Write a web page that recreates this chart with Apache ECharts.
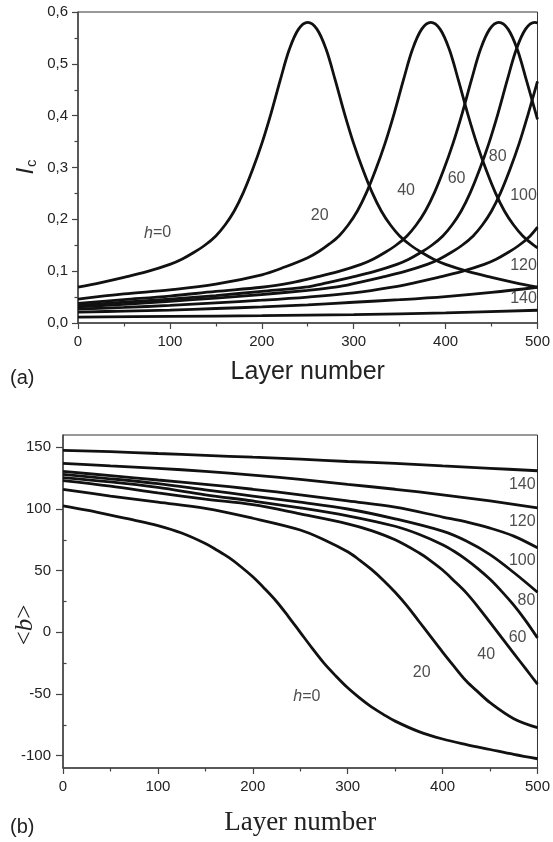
<!DOCTYPE html>
<html>
<head>
<meta charset="utf-8">
<script src="https://cdn.jsdelivr.net/npm/echarts@6.0.0/dist/echarts.min.js"></script>
<style>
html,body{margin:0;padding:0;background:#fff;}
#chart{width:553px;height:842px;}
</style>
</head>
<body>
<div id="chart"></div>
<script>
// ---------- Panel (a): I_c vs layer number ----------
const icX_h0 = [0,25,50,75,100,113,125,138,150,160,170,180,190,200,210,220,230,240,250,260,270,280,290,300,310,320,330,340,350,362,375,387,400,425,450,475,500];
const icY_h0 = [.069,.078,.088,.099,.113,.123,.135,.15,.168,.189,.216,.252,.296,.346,.404,.468,.528,.567,.58,.567,.528,.468,.404,.346,.296,.252,.216,.189,.168,.15,.135,.123,.113,.099,.088,.078,.069];
const icX_h20 = [0,50,100,150,200,225,250,262,274,284,294,304,314,324,334,344,354,364,374,384,394,404,414,424,434,444,454,464,474,484,496,500];
const icY_h20 = [.046,.056,.064,.075,.093,.108,.126,.138,.153,.168,.189,.216,.252,.296,.346,.404,.468,.528,.567,.58,.567,.528,.468,.404,.346,.296,.252,.216,.189,.168,.15,.145];
const icX_h40 = [0,50,100,150,200,233,258,283,308,321,333,346,358,368,378,388,398,408,418,428,438,448,458,468,478,488,500];
const icY_h40 = [.038,.045,.052,.061,.069,.078,.088,.099,.113,.123,.135,.15,.168,.189,.216,.252,.296,.346,.404,.468,.528,.567,.58,.567,.528,.468,.393];
const icX_h60 = [0,50,100,150,200,247,272,297,322,347,360,372,385,397,407,417,427,437,447,457,467,477,487,497,500];
const icY_h60 = [.034,.040,.046,.053,.061,.069,.078,.088,.099,.113,.123,.135,.15,.168,.189,.216,.252,.296,.346,.404,.468,.528,.567,.58,.579];
const icX_h80 = [0,50,100,150,200,250,280,305,330,355,380,393,405,418,430,440,450,460,470,480,490,500];
const icY_h80 = [.031,.036,.042,.048,.055,.063,.069,.078,.088,.099,.113,.123,.135,.15,.168,.189,.216,.252,.296,.346,.404,.466];
const icX_h100 = [0,50,100,150,200,250,300,342,367,392,417,442,455,467,480,492,500];
const icY_h100 = [.027,.030,.034,.039,.044,.050,.058,.069,.078,.088,.099,.113,.123,.135,.15,.168,.185];
const icX_h120 = [0,50,100,150,200,250,300,350,400,450,500];
const icY_h120 = [.021,.023,.025,.028,.031,.035,.040,.045,.051,.059,.069];
const icX_h140 = [0,100,200,300,400,500];
const icY_h140 = [.0115,.0128,.0142,.0163,.0195,.0246];

// ---------- Panel (b): <b> vs layer number ----------
const bX_h0 = [0,25,50,75,100,125,150,162.5,175,187.5,200,212.5,225,237.5,250,262.5,275,287.5,300,312.5,325,337.5,350,375,400,425,450,475,500];
const bY_h0 = [102.5,99,95,91,86.5,80.5,72,66.5,60.5,53.2,45,35.4,25,12.8,0,-12.8,-25,-35.4,-45,-53.2,-60.5,-66.5,-72,-80.5,-86.5,-91,-95,-99,-102.5];
const bX_h20 = [0,50,100,150,200,250,275,300,312.5,325,337.5,350,362.5,375,387.5,400,412.5,425,437.5,450,475,500];
const bY_h20 = [116,110.5,105.5,100.5,92.5,83,75.1,65.3,58.6,51,42.3,32.5,21.5,9,-3.5,-16,-28,-39.5,-48.5,-57,-70,-77.3];
const bX_h40 = [0,50,100,150,200,250,300,325,350,375,387.5,400,412.5,425,437.5,450,462.5,475,487.5,500];
const bY_h40 = [123,118.5,113,108,103.5,96,88,82.5,75,64.5,58,50.5,41.5,32,20.5,8,-4.5,-17,-29.5,-42];
const bX_h60 = [0,50,100,150,200,250,300,350,375,400,412.5,425,437.5,450,462.5,475,487.5,500];
const bY_h60 = [125.5,122,117.5,111.5,106.5,101,94.5,86,79.5,71,65.5,59,51.5,43,33,22,9.5,-4.5];
const bX_h80 = [0,50,100,150,200,250,300,350,400,425,450,475,500];
const bY_h80 = [128,124.5,120.5,115.5,110.5,105.5,100,92,82,74,63,48.5,32.5];
const bX_h100 = [0,50,100,150,200,250,300,350,400,425,450,475,500];
const bY_h100 = [130.5,127,123.5,120,116,111.5,106.5,101.5,93.5,89.5,84.5,78,68.5];
const bX_h120 = [0,50,100,150,200,250,300,350,400,450,500];
const bY_h120 = [137,135,133,130.5,127.5,124,120,116,111.5,106.5,101];
const bX_h140 = [0,50,100,150,200,250,300,350,400,450,500];
const bY_h140 = [147.5,146.5,145,143.5,142,140.5,138.5,137,135,133,131];

// tick values
const icTicks = [0,0.1,0.2,0.3,0.4,0.5,0.6];
const bTicks = [-100,-50,0,50,100,150];
const bMinorTicks = [-75,-25,25,75,125];

// curve annotations (text, layer, value)
const labelsA = [['{i|h}=0',86.6,0.1735],['20',263,0.208],['40',357,0.255],['60',412,0.279],['80',456.7,0.322],['100',484.8,0.245],['120',484.8,0.11],['140',484.8,0.048]];
const labelsB = [['{i|h}=0',257,-52.4],['20',378,-33],['40',446,-17.7],['60',479,-4],['80',488.4,25.8],['100',484,58],['120',484,89.5],['140',484,119.4]];

const SANS = 'Liberation Sans, Arial, sans-serif';
const SERIF = 'Liberation Serif, Times New Roman, serif';
const LINE = '#111';
const AX = '#444';

function pairs(xs, ys){ return xs.map((x,i)=>[x, ys[i]]); }
function curve(xs, ys, gi){
  return {type:'line', xAxisIndex:gi, yAxisIndex:gi, data:pairs(xs,ys), showSymbol:false, symbol:'none',
    smooth:0.35, lineStyle:{color:LINE, width:2.8}, silent:true, animation:false, z:3};
}
function labelSeries(arr, gi, yAxisIdx){
  return {type:'scatter', xAxisIndex:gi, yAxisIndex:yAxisIdx, symbolSize:0, silent:true, animation:false, z:5,
    data: arr.map(a=>({name:a[0], value:[a[1],a[2]]})),
    label:{show:true, position:'inside', formatter:p=>p.name, color:'#222', fontFamily:SANS, fontSize:16,
      rich:{i:{fontStyle:'italic', fontFamily:SANS, fontSize:16, color:'#222'}}}};
}
function xAxisCfg(gi, name, nameFont, nameSize, nameGap){
  return {type:'value', gridIndex:gi, min:0, max:500, interval:100,
    axisLine:{show:true, onZero:false, lineStyle:{color:AX, width:1.5}},
    axisTick:{show:true, inside:false, length:6, lineStyle:{color:AX, width:1.2}},
    minorTick:{show:true, splitNumber:2, length:3.5, lineStyle:{color:AX, width:1.2}},
    splitLine:{show:false}, minorSplitLine:{show:false},
    axisLabel:{fontFamily:SANS, fontSize:15, color:'#222', margin:11},
    name:name, nameLocation:'middle', nameGap:nameGap,
    nameTextStyle:{fontFamily:nameFont, fontSize:nameSize, color:'#222'}};
}

const chart = echarts.init(document.getElementById('chart'), null, {renderer:'canvas'});
const option = {
  animation:false,
  backgroundColor:'#fff',
  grid:[
    {left:78, top:12, width:462, height:311, show:true, borderColor:'#333', borderWidth:1, containLabel:false},
    {left:63, top:435, width:476, height:333, show:true, borderColor:'#333', borderWidth:1, containLabel:false}
  ],
  xAxis:[
    xAxisCfg(0, 'Layer number', SANS, 25, 37),
    xAxisCfg(1, 'Layer number', SERIF, 27, 41)
  ],
  yAxis:[
    {type:'value', gridIndex:0, min:0, max:0.6, interval:0.1,
      axisLine:{show:true, onZero:false, lineStyle:{color:AX, width:1.5}},
      axisTick:{show:true, inside:false, length:6, lineStyle:{color:AX, width:1.2}},
      minorTick:{show:true, splitNumber:2, length:3.5, lineStyle:{color:AX, width:1.2}},
      splitLine:{show:false},
      axisLabel:{fontFamily:SANS, fontSize:15, color:'#222', margin:10,
        customValues: icTicks,
        formatter:v=>v.toFixed(1).replace('.',',')}},
    {type:'value', gridIndex:1, min:-110, max:160,
      axisLine:{show:true, onZero:false, lineStyle:{color:AX, width:1.5}},
      axisTick:{show:true, inside:false, length:7, lineStyle:{color:AX, width:1.2}, customValues:bTicks},
      splitLine:{show:false},
      axisLabel:{fontFamily:SANS, fontSize:15, color:'#222', margin:12, customValues:bTicks}},
    {type:'value', gridIndex:1, min:-110, max:160,
      axisLine:{show:false},
      axisTick:{show:true, inside:false, length:3.5, lineStyle:{color:AX, width:1.2}, customValues:bMinorTicks},
      splitLine:{show:false},
      axisLabel:{show:false}}
  ],
  graphic:[
    {type:'text', x:26, y:167, rotation:Math.PI/2, silent:true,
      style:{text:'{i|I}{s|c}', align:'center', verticalAlign:'middle', fill:'#222',
        rich:{i:{fontStyle:'italic', fontFamily:SANS, fontSize:24, fill:'#222'},
              s:{fontFamily:SANS, fontSize:15, fill:'#222', padding:[12,0,0,1]}}}},
    {type:'text', x:25, y:625, rotation:Math.PI/2, silent:true,
      style:{text:'{n|<}{b|b}{n|>}', align:'center', verticalAlign:'middle', fill:'#222',
        rich:{n:{fontFamily:SERIF, fontSize:25, fill:'#222'},
              b:{fontFamily:SERIF, fontStyle:'italic', fontSize:25, fill:'#222'}}}},
    {type:'text', x:10, y:378, silent:true,
      style:{text:'(a)', font:'20px ' + SANS, fill:'#222', align:'left', verticalAlign:'middle'}},
    {type:'text', x:10, y:827, silent:true,
      style:{text:'(b)', font:'20px ' + SANS, fill:'#222', align:'left', verticalAlign:'middle'}}
  ],
  series:[
    curve(icX_h0, icY_h0, 0), curve(icX_h20, icY_h20, 0), curve(icX_h40, icY_h40, 0), curve(icX_h60, icY_h60, 0),
    curve(icX_h80, icY_h80, 0), curve(icX_h100, icY_h100, 0), curve(icX_h120, icY_h120, 0), curve(icX_h140, icY_h140, 0),
    curve(bX_h0, bY_h0, 1), curve(bX_h20, bY_h20, 1), curve(bX_h40, bY_h40, 1), curve(bX_h60, bY_h60, 1),
    curve(bX_h80, bY_h80, 1), curve(bX_h100, bY_h100, 1), curve(bX_h120, bY_h120, 1), curve(bX_h140, bY_h140, 1),
    labelSeries(labelsA, 0, 0),
    labelSeries(labelsB, 1, 1)
  ]
};
chart.setOption(option);
</script>
</body>
</html>
